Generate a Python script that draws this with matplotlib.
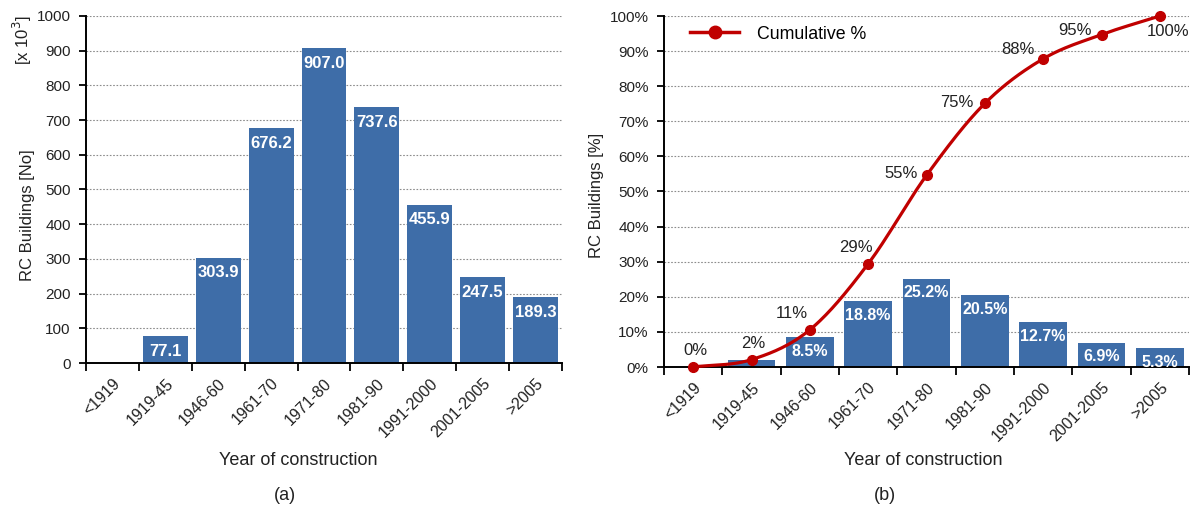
import numpy as np
import matplotlib
matplotlib.use("Agg")
import matplotlib.pyplot as plt
from matplotlib.lines import Line2D

plt.rcParams['font.family'] = ['Liberation Sans', 'DejaVu Sans']

categories = ["<1919", "1919-45", "1946-60", "1961-70", "1971-80", "1981-90",
              "1991-2000", "2001-2005", ">2005"]
buildings = [0.0, 77.1, 303.9, 676.2, 907.0, 737.6, 455.9, 247.5, 189.3]
share_pct = [0.0, 2.1, 8.5, 18.8, 25.2, 20.5, 12.7, 6.9, 5.3]
cumulative_pct = [0.0, 2.1, 10.6, 29.4, 54.6, 75.1, 87.8, 94.7, 100.0]
cum_labels = ["0%", "2%", "11%", "29%", "55%", "75%", "88%", "95%", "100%"]

BAR = "#3E6DA8"
RED = "#C00000"
TXT = "#222222"
W, H = 1194, 511
PT = 0.72  # points per pixel at dpi 100

fig = plt.figure(figsize=(W / 100, H / 100), dpi=100)

def px_axes(x0, x1, ytop, ybot):
    return fig.add_axes([x0 / W, (H - ybot) / H, (x1 - x0) / W, (ybot - ytop) / H])

def style(ax, n):
    ax.set_xlim(-0.5, n - 0.5)
    for s in ("top", "right"):
        ax.spines[s].set_visible(False)
    for s in ("left", "bottom"):
        ax.spines[s].set_linewidth(1.4)
        ax.spines[s].set_color("black")
    ax.set_xticks(np.arange(n + 1) - 0.5, minor=False)
    ax.set_xticklabels([])
    ax.tick_params(axis="x", which="major", length=6, width=1.3, direction="out")
    ax.set_xticks(np.arange(n), minor=True)
    ax.set_xticklabels(categories, minor=True, rotation=45, ha="right",
                       rotation_mode="anchor", fontsize=11.5, color=TXT)
    ax.tick_params(axis="x", which="minor", length=0, pad=9)
    ax.tick_params(axis="y", length=5, width=1.3, direction="out", pad=6,
                   labelsize=11, labelcolor=TXT)
    ax.yaxis.grid(True, linestyle=(0, (1.5, 1.5)), color="#8c8c8c", linewidth=0.8)
    ax.set_axisbelow(True)

n = len(categories)
x = np.arange(n)

# (a)
ax1 = px_axes(86, 562, 16, 363)
style(ax1, n)
ax1.bar(x, buildings, width=0.85, color=BAR, zorder=2)
ax1.set_ylim(0, 1000)
ax1.set_yticks(np.arange(0, 1001, 100))
for xi, v in zip(x, buildings):
    if v > 0:
        ax1.annotate(f"{v:.1f}", (xi, v), xytext=(0, -15 * PT), textcoords="offset points",
                     ha="center", va="center", color="white", fontsize=12,
                     fontweight="bold", zorder=3)
fig.text(28 / W, (H - 215) / H, "RC Buildings [No]", rotation=90, ha="center",
         va="center", fontsize=12, color=TXT)
fig.text(22 / W, (H - 40) / H, "[x 10$^3$]", rotation=90, ha="center",
         va="center", fontsize=12, color=TXT)
fig.text(298 / W, (H - 460) / H, "Year of construction", ha="center", va="center",
         fontsize=13, color=TXT)
fig.text(285 / W, (H - 495) / H, "(a)", ha="center", va="center", fontsize=13,
         color=TXT)

# (b)
ax2 = px_axes(664, 1189, 16, 367)
style(ax2, n)
ax2.bar(x, share_pct, width=0.82, color=BAR, zorder=2)
ax2.set_ylim(0, 100)
ax2.set_yticks(np.arange(0, 101, 10))
ax2.set_yticklabels([f"{v}%" for v in range(0, 101, 10)])
for xi, v in zip(x, share_pct):
    if v > 3:
        ax2.annotate(f"{v:.1f}%", (xi, v), xytext=(0, -14 * PT), textcoords="offset points",
                     ha="center", va="center", color="white", fontsize=11.5,
                     fontweight="bold", zorder=3)

# smooth (Catmull-Rom) curve through the cumulative points
P = np.column_stack([x, cumulative_pct]).astype(float)
Pe = np.vstack([P[0] - (P[1] - P[0]), P, P[-1] + (P[-1] - P[-2])])
curve = []
for i in range(1, len(Pe) - 2):
    p0, p1, p2, p3 = Pe[i - 1], Pe[i], Pe[i + 1], Pe[i + 2]
    t = np.linspace(0, 1, 30)[:, None]
    seg = 0.5 * ((2 * p1) + (-p0 + p2) * t + (2 * p0 - 5 * p1 + 4 * p2 - p3) * t ** 2
                 + (-p0 + 3 * p1 - 3 * p2 + p3) * t ** 3)
    curve.append(seg)
curve = np.vstack(curve)
ax2.plot(curve[:, 0], curve[:, 1], color=RED, linewidth=2.3, zorder=4, clip_on=False)
ax2.plot(x, cumulative_pct, "o", color=RED, markersize=7, zorder=5, clip_on=False)

# label placement in pixels: (dx, dy, horizontal alignment)
offsets = [(2, 17, "center"), (2, 16, "center"), (-18, 16, "center"), (-12, 16, "center"),
           (-9, 2, "right"), (-11, 1, "right"), (-9, 9, "right"), (-10, 4, "right"),
           (8, -16, "center")]
for xi, v, lab, (dx, dy, ha) in zip(x, cumulative_pct, cum_labels, offsets):
    ax2.annotate(lab, (xi, v), xytext=(dx * PT, dy * PT), textcoords="offset points",
                 ha=ha, va="center", fontsize=12, color=TXT, zorder=6)

ax2.legend(handles=[Line2D([0], [0], color=RED, lw=2.5, marker="o", markersize=9)],
           labels=["Cumulative %"], loc="center left", frameon=False, fontsize=12.8,
           handlelength=2.75, handletextpad=1.0, borderaxespad=0,
           bbox_to_anchor=((683 - 664) / (1189 - 664), 1 - (34 - 16) / (367 - 16)))
fig.text(597 / W, (H - 195) / H, "RC Buildings [%]", rotation=90, ha="center",
         va="center", fontsize=12, color=TXT)
fig.text(923 / W, (H - 460) / H, "Year of construction", ha="center", va="center",
         fontsize=13, color=TXT)
fig.text(885 / W, (H - 495) / H, "(b)", ha="center", va="center", fontsize=13,
         color=TXT)

fig.savefig("out.png", dpi=100)
